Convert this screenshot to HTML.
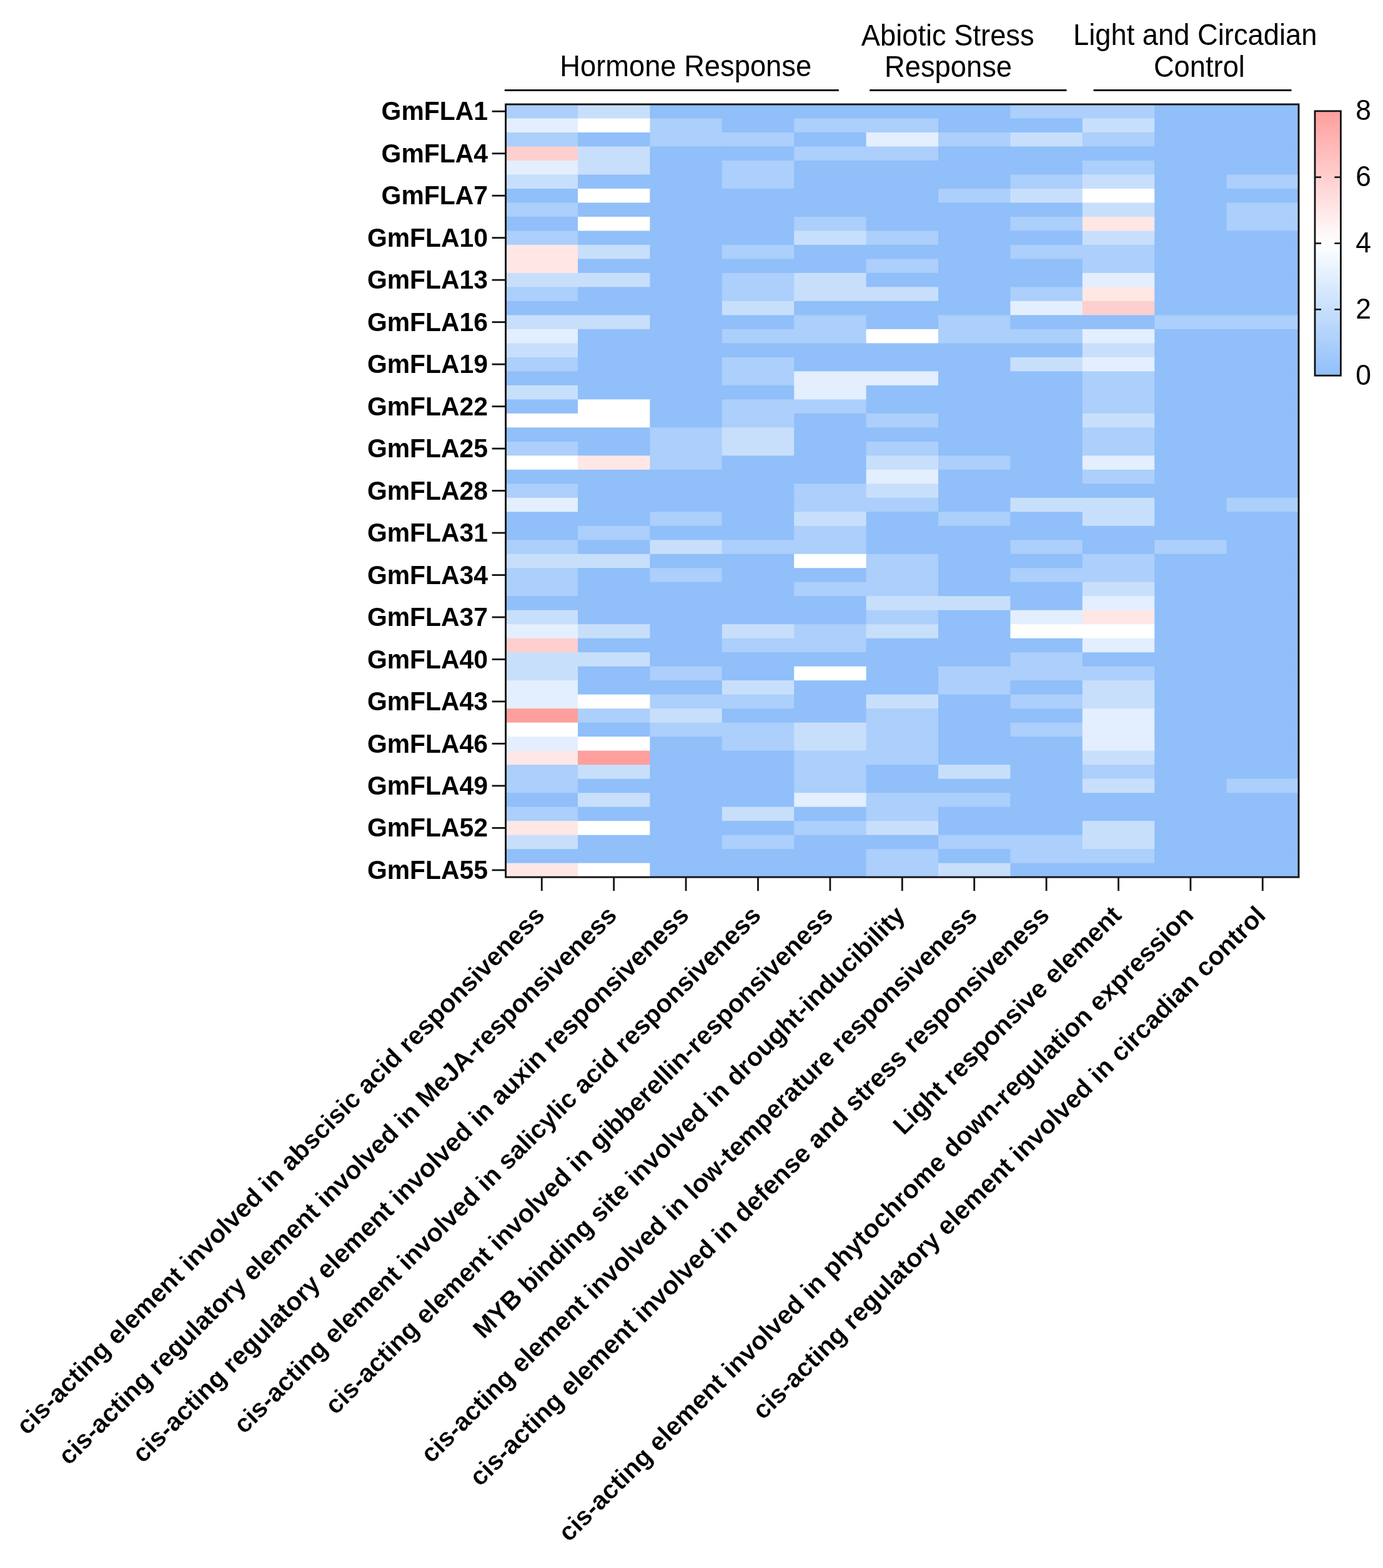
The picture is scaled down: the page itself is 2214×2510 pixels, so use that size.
<!DOCTYPE html>
<html lang="en"><head><meta charset="utf-8"><title>GmFLA cis-acting element heatmap</title>
<style>
html,body{margin:0;padding:0;background:#fff;}
body{width:2214px;height:2510px;overflow:hidden;}
svg{display:block;}
text{font-family:"Liberation Sans",Arial,Helvetica,sans-serif;fill:#000;}
.rl{font-weight:bold;font-size:40.9px;text-anchor:end;}
.cl{font-weight:bold;font-size:41.15px;text-anchor:end;stroke:#fff;stroke-width:0.2px;stroke-linejoin:round;paint-order:fill stroke;}
.gl{font-size:45.3px;text-anchor:middle;}
.bl{font-size:44.5px;text-anchor:start;}
.ln{stroke:#121212;fill:none;}
</style></head><body>
<svg width="2214" height="2510" viewBox="0 0 2214 2510">
<defs><linearGradient id="cb" x1="0" y1="0" x2="0" y2="1"><stop offset="0" stop-color="#fe9f9d"/><stop offset="0.5" stop-color="#ffffff"/><stop offset="1" stop-color="#90bffa"/></linearGradient></defs>
<rect x="0" y="0" width="2214" height="2510" fill="#fff"/>
<g shape-rendering="auto">
<rect x="809.60" y="167.00" width="1269.40" height="1237.10" fill="#90bffa"/>
<rect x="809.60" y="167.00" width="116.40" height="23.49" fill="#accffb"/>
<rect x="925.00" y="167.00" width="116.40" height="23.49" fill="#c8dffc"/>
<rect x="1040.40" y="167.00" width="116.40" height="23.49" fill="#90bffa"/>
<rect x="1155.80" y="167.00" width="116.40" height="23.49" fill="#90bffa"/>
<rect x="1271.20" y="167.00" width="116.40" height="23.49" fill="#90bffa"/>
<rect x="1386.60" y="167.00" width="116.40" height="23.49" fill="#90bffa"/>
<rect x="1502.00" y="167.00" width="116.40" height="23.49" fill="#90bffa"/>
<rect x="1617.40" y="167.00" width="116.40" height="23.49" fill="#accffb"/>
<rect x="1732.80" y="167.00" width="116.40" height="23.49" fill="#accffb"/>
<rect x="1848.20" y="167.00" width="116.40" height="23.49" fill="#90bffa"/>
<rect x="1963.60" y="167.00" width="115.40" height="23.49" fill="#90bffa"/>
<rect x="809.60" y="189.49" width="116.40" height="23.49" fill="#e3effe"/>
<rect x="925.00" y="189.49" width="116.40" height="23.49" fill="#ffffff"/>
<rect x="1040.40" y="189.49" width="116.40" height="23.49" fill="#accffb"/>
<rect x="1155.80" y="189.49" width="116.40" height="23.49" fill="#90bffa"/>
<rect x="1271.20" y="189.49" width="116.40" height="23.49" fill="#accffb"/>
<rect x="1386.60" y="189.49" width="116.40" height="23.49" fill="#accffb"/>
<rect x="1502.00" y="189.49" width="116.40" height="23.49" fill="#90bffa"/>
<rect x="1617.40" y="189.49" width="116.40" height="23.49" fill="#90bffa"/>
<rect x="1732.80" y="189.49" width="116.40" height="23.49" fill="#c8dffc"/>
<rect x="1848.20" y="189.49" width="116.40" height="23.49" fill="#90bffa"/>
<rect x="1963.60" y="189.49" width="115.40" height="23.49" fill="#90bffa"/>
<rect x="809.60" y="211.99" width="116.40" height="23.49" fill="#accffb"/>
<rect x="925.00" y="211.99" width="116.40" height="23.49" fill="#90bffa"/>
<rect x="1040.40" y="211.99" width="116.40" height="23.49" fill="#accffb"/>
<rect x="1155.80" y="211.99" width="116.40" height="23.49" fill="#accffb"/>
<rect x="1271.20" y="211.99" width="116.40" height="23.49" fill="#90bffa"/>
<rect x="1386.60" y="211.99" width="116.40" height="23.49" fill="#e3effe"/>
<rect x="1502.00" y="211.99" width="116.40" height="23.49" fill="#accffb"/>
<rect x="1617.40" y="211.99" width="116.40" height="23.49" fill="#c8dffc"/>
<rect x="1732.80" y="211.99" width="116.40" height="23.49" fill="#accffb"/>
<rect x="1848.20" y="211.99" width="116.40" height="23.49" fill="#90bffa"/>
<rect x="1963.60" y="211.99" width="115.40" height="23.49" fill="#90bffa"/>
<rect x="809.60" y="234.48" width="116.40" height="23.49" fill="#fecfce"/>
<rect x="925.00" y="234.48" width="116.40" height="23.49" fill="#c8dffc"/>
<rect x="1040.40" y="234.48" width="116.40" height="23.49" fill="#90bffa"/>
<rect x="1155.80" y="234.48" width="116.40" height="23.49" fill="#90bffa"/>
<rect x="1271.20" y="234.48" width="116.40" height="23.49" fill="#accffb"/>
<rect x="1386.60" y="234.48" width="116.40" height="23.49" fill="#accffb"/>
<rect x="1502.00" y="234.48" width="116.40" height="23.49" fill="#90bffa"/>
<rect x="1617.40" y="234.48" width="116.40" height="23.49" fill="#90bffa"/>
<rect x="1732.80" y="234.48" width="116.40" height="23.49" fill="#90bffa"/>
<rect x="1848.20" y="234.48" width="116.40" height="23.49" fill="#90bffa"/>
<rect x="1963.60" y="234.48" width="115.40" height="23.49" fill="#90bffa"/>
<rect x="809.60" y="256.97" width="116.40" height="23.49" fill="#e3effe"/>
<rect x="925.00" y="256.97" width="116.40" height="23.49" fill="#c8dffc"/>
<rect x="1040.40" y="256.97" width="116.40" height="23.49" fill="#90bffa"/>
<rect x="1155.80" y="256.97" width="116.40" height="23.49" fill="#accffb"/>
<rect x="1271.20" y="256.97" width="116.40" height="23.49" fill="#90bffa"/>
<rect x="1386.60" y="256.97" width="116.40" height="23.49" fill="#90bffa"/>
<rect x="1502.00" y="256.97" width="116.40" height="23.49" fill="#90bffa"/>
<rect x="1617.40" y="256.97" width="116.40" height="23.49" fill="#90bffa"/>
<rect x="1732.80" y="256.97" width="116.40" height="23.49" fill="#accffb"/>
<rect x="1848.20" y="256.97" width="116.40" height="23.49" fill="#90bffa"/>
<rect x="1963.60" y="256.97" width="115.40" height="23.49" fill="#90bffa"/>
<rect x="809.60" y="279.46" width="116.40" height="23.49" fill="#c8dffc"/>
<rect x="925.00" y="279.46" width="116.40" height="23.49" fill="#90bffa"/>
<rect x="1040.40" y="279.46" width="116.40" height="23.49" fill="#90bffa"/>
<rect x="1155.80" y="279.46" width="116.40" height="23.49" fill="#accffb"/>
<rect x="1271.20" y="279.46" width="116.40" height="23.49" fill="#90bffa"/>
<rect x="1386.60" y="279.46" width="116.40" height="23.49" fill="#90bffa"/>
<rect x="1502.00" y="279.46" width="116.40" height="23.49" fill="#90bffa"/>
<rect x="1617.40" y="279.46" width="116.40" height="23.49" fill="#accffb"/>
<rect x="1732.80" y="279.46" width="116.40" height="23.49" fill="#c8dffc"/>
<rect x="1848.20" y="279.46" width="116.40" height="23.49" fill="#90bffa"/>
<rect x="1963.60" y="279.46" width="115.40" height="23.49" fill="#accffb"/>
<rect x="809.60" y="301.96" width="116.40" height="23.49" fill="#90bffa"/>
<rect x="925.00" y="301.96" width="116.40" height="23.49" fill="#ffffff"/>
<rect x="1040.40" y="301.96" width="116.40" height="23.49" fill="#90bffa"/>
<rect x="1155.80" y="301.96" width="116.40" height="23.49" fill="#90bffa"/>
<rect x="1271.20" y="301.96" width="116.40" height="23.49" fill="#90bffa"/>
<rect x="1386.60" y="301.96" width="116.40" height="23.49" fill="#90bffa"/>
<rect x="1502.00" y="301.96" width="116.40" height="23.49" fill="#accffb"/>
<rect x="1617.40" y="301.96" width="116.40" height="23.49" fill="#c8dffc"/>
<rect x="1732.80" y="301.96" width="116.40" height="23.49" fill="#ffffff"/>
<rect x="1848.20" y="301.96" width="116.40" height="23.49" fill="#90bffa"/>
<rect x="1963.60" y="301.96" width="115.40" height="23.49" fill="#90bffa"/>
<rect x="809.60" y="324.45" width="116.40" height="23.49" fill="#accffb"/>
<rect x="925.00" y="324.45" width="116.40" height="23.49" fill="#90bffa"/>
<rect x="1040.40" y="324.45" width="116.40" height="23.49" fill="#90bffa"/>
<rect x="1155.80" y="324.45" width="116.40" height="23.49" fill="#90bffa"/>
<rect x="1271.20" y="324.45" width="116.40" height="23.49" fill="#90bffa"/>
<rect x="1386.60" y="324.45" width="116.40" height="23.49" fill="#90bffa"/>
<rect x="1502.00" y="324.45" width="116.40" height="23.49" fill="#90bffa"/>
<rect x="1617.40" y="324.45" width="116.40" height="23.49" fill="#90bffa"/>
<rect x="1732.80" y="324.45" width="116.40" height="23.49" fill="#c8dffc"/>
<rect x="1848.20" y="324.45" width="116.40" height="23.49" fill="#90bffa"/>
<rect x="1963.60" y="324.45" width="115.40" height="23.49" fill="#accffb"/>
<rect x="809.60" y="346.94" width="116.40" height="23.49" fill="#90bffa"/>
<rect x="925.00" y="346.94" width="116.40" height="23.49" fill="#ffffff"/>
<rect x="1040.40" y="346.94" width="116.40" height="23.49" fill="#90bffa"/>
<rect x="1155.80" y="346.94" width="116.40" height="23.49" fill="#90bffa"/>
<rect x="1271.20" y="346.94" width="116.40" height="23.49" fill="#accffb"/>
<rect x="1386.60" y="346.94" width="116.40" height="23.49" fill="#90bffa"/>
<rect x="1502.00" y="346.94" width="116.40" height="23.49" fill="#90bffa"/>
<rect x="1617.40" y="346.94" width="116.40" height="23.49" fill="#accffb"/>
<rect x="1732.80" y="346.94" width="116.40" height="23.49" fill="#ffe7e6"/>
<rect x="1848.20" y="346.94" width="116.40" height="23.49" fill="#90bffa"/>
<rect x="1963.60" y="346.94" width="115.40" height="23.49" fill="#accffb"/>
<rect x="809.60" y="369.43" width="116.40" height="23.49" fill="#accffb"/>
<rect x="925.00" y="369.43" width="116.40" height="23.49" fill="#90bffa"/>
<rect x="1040.40" y="369.43" width="116.40" height="23.49" fill="#90bffa"/>
<rect x="1155.80" y="369.43" width="116.40" height="23.49" fill="#90bffa"/>
<rect x="1271.20" y="369.43" width="116.40" height="23.49" fill="#c8dffc"/>
<rect x="1386.60" y="369.43" width="116.40" height="23.49" fill="#accffb"/>
<rect x="1502.00" y="369.43" width="116.40" height="23.49" fill="#90bffa"/>
<rect x="1617.40" y="369.43" width="116.40" height="23.49" fill="#90bffa"/>
<rect x="1732.80" y="369.43" width="116.40" height="23.49" fill="#c8dffc"/>
<rect x="1848.20" y="369.43" width="116.40" height="23.49" fill="#90bffa"/>
<rect x="1963.60" y="369.43" width="115.40" height="23.49" fill="#90bffa"/>
<rect x="809.60" y="391.93" width="116.40" height="23.49" fill="#ffe7e6"/>
<rect x="925.00" y="391.93" width="116.40" height="23.49" fill="#c8dffc"/>
<rect x="1040.40" y="391.93" width="116.40" height="23.49" fill="#90bffa"/>
<rect x="1155.80" y="391.93" width="116.40" height="23.49" fill="#accffb"/>
<rect x="1271.20" y="391.93" width="116.40" height="23.49" fill="#90bffa"/>
<rect x="1386.60" y="391.93" width="116.40" height="23.49" fill="#90bffa"/>
<rect x="1502.00" y="391.93" width="116.40" height="23.49" fill="#90bffa"/>
<rect x="1617.40" y="391.93" width="116.40" height="23.49" fill="#accffb"/>
<rect x="1732.80" y="391.93" width="116.40" height="23.49" fill="#accffb"/>
<rect x="1848.20" y="391.93" width="116.40" height="23.49" fill="#90bffa"/>
<rect x="1963.60" y="391.93" width="115.40" height="23.49" fill="#90bffa"/>
<rect x="809.60" y="414.42" width="116.40" height="23.49" fill="#ffe7e6"/>
<rect x="925.00" y="414.42" width="116.40" height="23.49" fill="#90bffa"/>
<rect x="1040.40" y="414.42" width="116.40" height="23.49" fill="#90bffa"/>
<rect x="1155.80" y="414.42" width="116.40" height="23.49" fill="#90bffa"/>
<rect x="1271.20" y="414.42" width="116.40" height="23.49" fill="#90bffa"/>
<rect x="1386.60" y="414.42" width="116.40" height="23.49" fill="#accffb"/>
<rect x="1502.00" y="414.42" width="116.40" height="23.49" fill="#90bffa"/>
<rect x="1617.40" y="414.42" width="116.40" height="23.49" fill="#90bffa"/>
<rect x="1732.80" y="414.42" width="116.40" height="23.49" fill="#accffb"/>
<rect x="1848.20" y="414.42" width="116.40" height="23.49" fill="#90bffa"/>
<rect x="1963.60" y="414.42" width="115.40" height="23.49" fill="#90bffa"/>
<rect x="809.60" y="436.91" width="116.40" height="23.49" fill="#c8dffc"/>
<rect x="925.00" y="436.91" width="116.40" height="23.49" fill="#c8dffc"/>
<rect x="1040.40" y="436.91" width="116.40" height="23.49" fill="#90bffa"/>
<rect x="1155.80" y="436.91" width="116.40" height="23.49" fill="#accffb"/>
<rect x="1271.20" y="436.91" width="116.40" height="23.49" fill="#c8dffc"/>
<rect x="1386.60" y="436.91" width="116.40" height="23.49" fill="#90bffa"/>
<rect x="1502.00" y="436.91" width="116.40" height="23.49" fill="#90bffa"/>
<rect x="1617.40" y="436.91" width="116.40" height="23.49" fill="#90bffa"/>
<rect x="1732.80" y="436.91" width="116.40" height="23.49" fill="#e3effe"/>
<rect x="1848.20" y="436.91" width="116.40" height="23.49" fill="#90bffa"/>
<rect x="1963.60" y="436.91" width="115.40" height="23.49" fill="#90bffa"/>
<rect x="809.60" y="459.41" width="116.40" height="23.49" fill="#accffb"/>
<rect x="925.00" y="459.41" width="116.40" height="23.49" fill="#90bffa"/>
<rect x="1040.40" y="459.41" width="116.40" height="23.49" fill="#90bffa"/>
<rect x="1155.80" y="459.41" width="116.40" height="23.49" fill="#accffb"/>
<rect x="1271.20" y="459.41" width="116.40" height="23.49" fill="#c8dffc"/>
<rect x="1386.60" y="459.41" width="116.40" height="23.49" fill="#c8dffc"/>
<rect x="1502.00" y="459.41" width="116.40" height="23.49" fill="#90bffa"/>
<rect x="1617.40" y="459.41" width="116.40" height="23.49" fill="#accffb"/>
<rect x="1732.80" y="459.41" width="116.40" height="23.49" fill="#ffe7e6"/>
<rect x="1848.20" y="459.41" width="116.40" height="23.49" fill="#90bffa"/>
<rect x="1963.60" y="459.41" width="115.40" height="23.49" fill="#90bffa"/>
<rect x="809.60" y="481.90" width="116.40" height="23.49" fill="#90bffa"/>
<rect x="925.00" y="481.90" width="116.40" height="23.49" fill="#90bffa"/>
<rect x="1040.40" y="481.90" width="116.40" height="23.49" fill="#90bffa"/>
<rect x="1155.80" y="481.90" width="116.40" height="23.49" fill="#c8dffc"/>
<rect x="1271.20" y="481.90" width="116.40" height="23.49" fill="#90bffa"/>
<rect x="1386.60" y="481.90" width="116.40" height="23.49" fill="#90bffa"/>
<rect x="1502.00" y="481.90" width="116.40" height="23.49" fill="#90bffa"/>
<rect x="1617.40" y="481.90" width="116.40" height="23.49" fill="#e3effe"/>
<rect x="1732.80" y="481.90" width="116.40" height="23.49" fill="#fecfce"/>
<rect x="1848.20" y="481.90" width="116.40" height="23.49" fill="#90bffa"/>
<rect x="1963.60" y="481.90" width="115.40" height="23.49" fill="#90bffa"/>
<rect x="809.60" y="504.39" width="116.40" height="23.49" fill="#c8dffc"/>
<rect x="925.00" y="504.39" width="116.40" height="23.49" fill="#c8dffc"/>
<rect x="1040.40" y="504.39" width="116.40" height="23.49" fill="#90bffa"/>
<rect x="1155.80" y="504.39" width="116.40" height="23.49" fill="#90bffa"/>
<rect x="1271.20" y="504.39" width="116.40" height="23.49" fill="#accffb"/>
<rect x="1386.60" y="504.39" width="116.40" height="23.49" fill="#90bffa"/>
<rect x="1502.00" y="504.39" width="116.40" height="23.49" fill="#accffb"/>
<rect x="1617.40" y="504.39" width="116.40" height="23.49" fill="#90bffa"/>
<rect x="1732.80" y="504.39" width="116.40" height="23.49" fill="#90bffa"/>
<rect x="1848.20" y="504.39" width="116.40" height="23.49" fill="#accffb"/>
<rect x="1963.60" y="504.39" width="115.40" height="23.49" fill="#accffb"/>
<rect x="809.60" y="526.88" width="116.40" height="23.49" fill="#e3effe"/>
<rect x="925.00" y="526.88" width="116.40" height="23.49" fill="#90bffa"/>
<rect x="1040.40" y="526.88" width="116.40" height="23.49" fill="#90bffa"/>
<rect x="1155.80" y="526.88" width="116.40" height="23.49" fill="#accffb"/>
<rect x="1271.20" y="526.88" width="116.40" height="23.49" fill="#accffb"/>
<rect x="1386.60" y="526.88" width="116.40" height="23.49" fill="#ffffff"/>
<rect x="1502.00" y="526.88" width="116.40" height="23.49" fill="#accffb"/>
<rect x="1617.40" y="526.88" width="116.40" height="23.49" fill="#accffb"/>
<rect x="1732.80" y="526.88" width="116.40" height="23.49" fill="#e3effe"/>
<rect x="1848.20" y="526.88" width="116.40" height="23.49" fill="#90bffa"/>
<rect x="1963.60" y="526.88" width="115.40" height="23.49" fill="#90bffa"/>
<rect x="809.60" y="549.38" width="116.40" height="23.49" fill="#c8dffc"/>
<rect x="925.00" y="549.38" width="116.40" height="23.49" fill="#90bffa"/>
<rect x="1040.40" y="549.38" width="116.40" height="23.49" fill="#90bffa"/>
<rect x="1155.80" y="549.38" width="116.40" height="23.49" fill="#90bffa"/>
<rect x="1271.20" y="549.38" width="116.40" height="23.49" fill="#90bffa"/>
<rect x="1386.60" y="549.38" width="116.40" height="23.49" fill="#90bffa"/>
<rect x="1502.00" y="549.38" width="116.40" height="23.49" fill="#90bffa"/>
<rect x="1617.40" y="549.38" width="116.40" height="23.49" fill="#90bffa"/>
<rect x="1732.80" y="549.38" width="116.40" height="23.49" fill="#c8dffc"/>
<rect x="1848.20" y="549.38" width="116.40" height="23.49" fill="#90bffa"/>
<rect x="1963.60" y="549.38" width="115.40" height="23.49" fill="#90bffa"/>
<rect x="809.60" y="571.87" width="116.40" height="23.49" fill="#accffb"/>
<rect x="925.00" y="571.87" width="116.40" height="23.49" fill="#90bffa"/>
<rect x="1040.40" y="571.87" width="116.40" height="23.49" fill="#90bffa"/>
<rect x="1155.80" y="571.87" width="116.40" height="23.49" fill="#accffb"/>
<rect x="1271.20" y="571.87" width="116.40" height="23.49" fill="#90bffa"/>
<rect x="1386.60" y="571.87" width="116.40" height="23.49" fill="#90bffa"/>
<rect x="1502.00" y="571.87" width="116.40" height="23.49" fill="#90bffa"/>
<rect x="1617.40" y="571.87" width="116.40" height="23.49" fill="#c8dffc"/>
<rect x="1732.80" y="571.87" width="116.40" height="23.49" fill="#e3effe"/>
<rect x="1848.20" y="571.87" width="116.40" height="23.49" fill="#90bffa"/>
<rect x="1963.60" y="571.87" width="115.40" height="23.49" fill="#90bffa"/>
<rect x="809.60" y="594.36" width="116.40" height="23.49" fill="#90bffa"/>
<rect x="925.00" y="594.36" width="116.40" height="23.49" fill="#90bffa"/>
<rect x="1040.40" y="594.36" width="116.40" height="23.49" fill="#90bffa"/>
<rect x="1155.80" y="594.36" width="116.40" height="23.49" fill="#accffb"/>
<rect x="1271.20" y="594.36" width="116.40" height="23.49" fill="#e3effe"/>
<rect x="1386.60" y="594.36" width="116.40" height="23.49" fill="#e3effe"/>
<rect x="1502.00" y="594.36" width="116.40" height="23.49" fill="#90bffa"/>
<rect x="1617.40" y="594.36" width="116.40" height="23.49" fill="#90bffa"/>
<rect x="1732.80" y="594.36" width="116.40" height="23.49" fill="#accffb"/>
<rect x="1848.20" y="594.36" width="116.40" height="23.49" fill="#90bffa"/>
<rect x="1963.60" y="594.36" width="115.40" height="23.49" fill="#90bffa"/>
<rect x="809.60" y="616.85" width="116.40" height="23.49" fill="#c8dffc"/>
<rect x="925.00" y="616.85" width="116.40" height="23.49" fill="#90bffa"/>
<rect x="1040.40" y="616.85" width="116.40" height="23.49" fill="#90bffa"/>
<rect x="1155.80" y="616.85" width="116.40" height="23.49" fill="#90bffa"/>
<rect x="1271.20" y="616.85" width="116.40" height="23.49" fill="#e3effe"/>
<rect x="1386.60" y="616.85" width="116.40" height="23.49" fill="#90bffa"/>
<rect x="1502.00" y="616.85" width="116.40" height="23.49" fill="#90bffa"/>
<rect x="1617.40" y="616.85" width="116.40" height="23.49" fill="#90bffa"/>
<rect x="1732.80" y="616.85" width="116.40" height="23.49" fill="#accffb"/>
<rect x="1848.20" y="616.85" width="116.40" height="23.49" fill="#90bffa"/>
<rect x="1963.60" y="616.85" width="115.40" height="23.49" fill="#90bffa"/>
<rect x="809.60" y="639.35" width="116.40" height="23.49" fill="#90bffa"/>
<rect x="925.00" y="639.35" width="116.40" height="23.49" fill="#ffffff"/>
<rect x="1040.40" y="639.35" width="116.40" height="23.49" fill="#90bffa"/>
<rect x="1155.80" y="639.35" width="116.40" height="23.49" fill="#accffb"/>
<rect x="1271.20" y="639.35" width="116.40" height="23.49" fill="#accffb"/>
<rect x="1386.60" y="639.35" width="116.40" height="23.49" fill="#90bffa"/>
<rect x="1502.00" y="639.35" width="116.40" height="23.49" fill="#90bffa"/>
<rect x="1617.40" y="639.35" width="116.40" height="23.49" fill="#90bffa"/>
<rect x="1732.80" y="639.35" width="116.40" height="23.49" fill="#accffb"/>
<rect x="1848.20" y="639.35" width="116.40" height="23.49" fill="#90bffa"/>
<rect x="1963.60" y="639.35" width="115.40" height="23.49" fill="#90bffa"/>
<rect x="809.60" y="661.84" width="116.40" height="23.49" fill="#ffffff"/>
<rect x="925.00" y="661.84" width="116.40" height="23.49" fill="#ffffff"/>
<rect x="1040.40" y="661.84" width="116.40" height="23.49" fill="#90bffa"/>
<rect x="1155.80" y="661.84" width="116.40" height="23.49" fill="#accffb"/>
<rect x="1271.20" y="661.84" width="116.40" height="23.49" fill="#90bffa"/>
<rect x="1386.60" y="661.84" width="116.40" height="23.49" fill="#accffb"/>
<rect x="1502.00" y="661.84" width="116.40" height="23.49" fill="#90bffa"/>
<rect x="1617.40" y="661.84" width="116.40" height="23.49" fill="#90bffa"/>
<rect x="1732.80" y="661.84" width="116.40" height="23.49" fill="#c8dffc"/>
<rect x="1848.20" y="661.84" width="116.40" height="23.49" fill="#90bffa"/>
<rect x="1963.60" y="661.84" width="115.40" height="23.49" fill="#90bffa"/>
<rect x="809.60" y="684.33" width="116.40" height="23.49" fill="#90bffa"/>
<rect x="925.00" y="684.33" width="116.40" height="23.49" fill="#90bffa"/>
<rect x="1040.40" y="684.33" width="116.40" height="23.49" fill="#accffb"/>
<rect x="1155.80" y="684.33" width="116.40" height="23.49" fill="#c8dffc"/>
<rect x="1271.20" y="684.33" width="116.40" height="23.49" fill="#90bffa"/>
<rect x="1386.60" y="684.33" width="116.40" height="23.49" fill="#90bffa"/>
<rect x="1502.00" y="684.33" width="116.40" height="23.49" fill="#90bffa"/>
<rect x="1617.40" y="684.33" width="116.40" height="23.49" fill="#90bffa"/>
<rect x="1732.80" y="684.33" width="116.40" height="23.49" fill="#accffb"/>
<rect x="1848.20" y="684.33" width="116.40" height="23.49" fill="#90bffa"/>
<rect x="1963.60" y="684.33" width="115.40" height="23.49" fill="#90bffa"/>
<rect x="809.60" y="706.83" width="116.40" height="23.49" fill="#accffb"/>
<rect x="925.00" y="706.83" width="116.40" height="23.49" fill="#90bffa"/>
<rect x="1040.40" y="706.83" width="116.40" height="23.49" fill="#accffb"/>
<rect x="1155.80" y="706.83" width="116.40" height="23.49" fill="#c8dffc"/>
<rect x="1271.20" y="706.83" width="116.40" height="23.49" fill="#90bffa"/>
<rect x="1386.60" y="706.83" width="116.40" height="23.49" fill="#accffb"/>
<rect x="1502.00" y="706.83" width="116.40" height="23.49" fill="#90bffa"/>
<rect x="1617.40" y="706.83" width="116.40" height="23.49" fill="#90bffa"/>
<rect x="1732.80" y="706.83" width="116.40" height="23.49" fill="#accffb"/>
<rect x="1848.20" y="706.83" width="116.40" height="23.49" fill="#90bffa"/>
<rect x="1963.60" y="706.83" width="115.40" height="23.49" fill="#90bffa"/>
<rect x="809.60" y="729.32" width="116.40" height="23.49" fill="#ffffff"/>
<rect x="925.00" y="729.32" width="116.40" height="23.49" fill="#ffe7e6"/>
<rect x="1040.40" y="729.32" width="116.40" height="23.49" fill="#accffb"/>
<rect x="1155.80" y="729.32" width="116.40" height="23.49" fill="#90bffa"/>
<rect x="1271.20" y="729.32" width="116.40" height="23.49" fill="#90bffa"/>
<rect x="1386.60" y="729.32" width="116.40" height="23.49" fill="#c8dffc"/>
<rect x="1502.00" y="729.32" width="116.40" height="23.49" fill="#accffb"/>
<rect x="1617.40" y="729.32" width="116.40" height="23.49" fill="#90bffa"/>
<rect x="1732.80" y="729.32" width="116.40" height="23.49" fill="#e3effe"/>
<rect x="1848.20" y="729.32" width="116.40" height="23.49" fill="#90bffa"/>
<rect x="1963.60" y="729.32" width="115.40" height="23.49" fill="#90bffa"/>
<rect x="809.60" y="751.81" width="116.40" height="23.49" fill="#90bffa"/>
<rect x="925.00" y="751.81" width="116.40" height="23.49" fill="#90bffa"/>
<rect x="1040.40" y="751.81" width="116.40" height="23.49" fill="#90bffa"/>
<rect x="1155.80" y="751.81" width="116.40" height="23.49" fill="#90bffa"/>
<rect x="1271.20" y="751.81" width="116.40" height="23.49" fill="#90bffa"/>
<rect x="1386.60" y="751.81" width="116.40" height="23.49" fill="#e3effe"/>
<rect x="1502.00" y="751.81" width="116.40" height="23.49" fill="#90bffa"/>
<rect x="1617.40" y="751.81" width="116.40" height="23.49" fill="#90bffa"/>
<rect x="1732.80" y="751.81" width="116.40" height="23.49" fill="#accffb"/>
<rect x="1848.20" y="751.81" width="116.40" height="23.49" fill="#90bffa"/>
<rect x="1963.60" y="751.81" width="115.40" height="23.49" fill="#90bffa"/>
<rect x="809.60" y="774.30" width="116.40" height="23.49" fill="#accffb"/>
<rect x="925.00" y="774.30" width="116.40" height="23.49" fill="#90bffa"/>
<rect x="1040.40" y="774.30" width="116.40" height="23.49" fill="#90bffa"/>
<rect x="1155.80" y="774.30" width="116.40" height="23.49" fill="#90bffa"/>
<rect x="1271.20" y="774.30" width="116.40" height="23.49" fill="#accffb"/>
<rect x="1386.60" y="774.30" width="116.40" height="23.49" fill="#c8dffc"/>
<rect x="1502.00" y="774.30" width="116.40" height="23.49" fill="#90bffa"/>
<rect x="1617.40" y="774.30" width="116.40" height="23.49" fill="#90bffa"/>
<rect x="1732.80" y="774.30" width="116.40" height="23.49" fill="#90bffa"/>
<rect x="1848.20" y="774.30" width="116.40" height="23.49" fill="#90bffa"/>
<rect x="1963.60" y="774.30" width="115.40" height="23.49" fill="#90bffa"/>
<rect x="809.60" y="796.80" width="116.40" height="23.49" fill="#e3effe"/>
<rect x="925.00" y="796.80" width="116.40" height="23.49" fill="#90bffa"/>
<rect x="1040.40" y="796.80" width="116.40" height="23.49" fill="#90bffa"/>
<rect x="1155.80" y="796.80" width="116.40" height="23.49" fill="#90bffa"/>
<rect x="1271.20" y="796.80" width="116.40" height="23.49" fill="#accffb"/>
<rect x="1386.60" y="796.80" width="116.40" height="23.49" fill="#accffb"/>
<rect x="1502.00" y="796.80" width="116.40" height="23.49" fill="#90bffa"/>
<rect x="1617.40" y="796.80" width="116.40" height="23.49" fill="#c8dffc"/>
<rect x="1732.80" y="796.80" width="116.40" height="23.49" fill="#c8dffc"/>
<rect x="1848.20" y="796.80" width="116.40" height="23.49" fill="#90bffa"/>
<rect x="1963.60" y="796.80" width="115.40" height="23.49" fill="#accffb"/>
<rect x="809.60" y="819.29" width="116.40" height="23.49" fill="#90bffa"/>
<rect x="925.00" y="819.29" width="116.40" height="23.49" fill="#90bffa"/>
<rect x="1040.40" y="819.29" width="116.40" height="23.49" fill="#accffb"/>
<rect x="1155.80" y="819.29" width="116.40" height="23.49" fill="#90bffa"/>
<rect x="1271.20" y="819.29" width="116.40" height="23.49" fill="#c8dffc"/>
<rect x="1386.60" y="819.29" width="116.40" height="23.49" fill="#90bffa"/>
<rect x="1502.00" y="819.29" width="116.40" height="23.49" fill="#accffb"/>
<rect x="1617.40" y="819.29" width="116.40" height="23.49" fill="#90bffa"/>
<rect x="1732.80" y="819.29" width="116.40" height="23.49" fill="#c8dffc"/>
<rect x="1848.20" y="819.29" width="116.40" height="23.49" fill="#90bffa"/>
<rect x="1963.60" y="819.29" width="115.40" height="23.49" fill="#90bffa"/>
<rect x="809.60" y="841.78" width="116.40" height="23.49" fill="#90bffa"/>
<rect x="925.00" y="841.78" width="116.40" height="23.49" fill="#accffb"/>
<rect x="1040.40" y="841.78" width="116.40" height="23.49" fill="#90bffa"/>
<rect x="1155.80" y="841.78" width="116.40" height="23.49" fill="#90bffa"/>
<rect x="1271.20" y="841.78" width="116.40" height="23.49" fill="#accffb"/>
<rect x="1386.60" y="841.78" width="116.40" height="23.49" fill="#90bffa"/>
<rect x="1502.00" y="841.78" width="116.40" height="23.49" fill="#90bffa"/>
<rect x="1617.40" y="841.78" width="116.40" height="23.49" fill="#90bffa"/>
<rect x="1732.80" y="841.78" width="116.40" height="23.49" fill="#90bffa"/>
<rect x="1848.20" y="841.78" width="116.40" height="23.49" fill="#90bffa"/>
<rect x="1963.60" y="841.78" width="115.40" height="23.49" fill="#90bffa"/>
<rect x="809.60" y="864.27" width="116.40" height="23.49" fill="#accffb"/>
<rect x="925.00" y="864.27" width="116.40" height="23.49" fill="#90bffa"/>
<rect x="1040.40" y="864.27" width="116.40" height="23.49" fill="#c8dffc"/>
<rect x="1155.80" y="864.27" width="116.40" height="23.49" fill="#accffb"/>
<rect x="1271.20" y="864.27" width="116.40" height="23.49" fill="#accffb"/>
<rect x="1386.60" y="864.27" width="116.40" height="23.49" fill="#90bffa"/>
<rect x="1502.00" y="864.27" width="116.40" height="23.49" fill="#90bffa"/>
<rect x="1617.40" y="864.27" width="116.40" height="23.49" fill="#accffb"/>
<rect x="1732.80" y="864.27" width="116.40" height="23.49" fill="#90bffa"/>
<rect x="1848.20" y="864.27" width="116.40" height="23.49" fill="#accffb"/>
<rect x="1963.60" y="864.27" width="115.40" height="23.49" fill="#90bffa"/>
<rect x="809.60" y="886.77" width="116.40" height="23.49" fill="#c8dffc"/>
<rect x="925.00" y="886.77" width="116.40" height="23.49" fill="#c8dffc"/>
<rect x="1040.40" y="886.77" width="116.40" height="23.49" fill="#90bffa"/>
<rect x="1155.80" y="886.77" width="116.40" height="23.49" fill="#90bffa"/>
<rect x="1271.20" y="886.77" width="116.40" height="23.49" fill="#ffffff"/>
<rect x="1386.60" y="886.77" width="116.40" height="23.49" fill="#accffb"/>
<rect x="1502.00" y="886.77" width="116.40" height="23.49" fill="#90bffa"/>
<rect x="1617.40" y="886.77" width="116.40" height="23.49" fill="#90bffa"/>
<rect x="1732.80" y="886.77" width="116.40" height="23.49" fill="#accffb"/>
<rect x="1848.20" y="886.77" width="116.40" height="23.49" fill="#90bffa"/>
<rect x="1963.60" y="886.77" width="115.40" height="23.49" fill="#90bffa"/>
<rect x="809.60" y="909.26" width="116.40" height="23.49" fill="#accffb"/>
<rect x="925.00" y="909.26" width="116.40" height="23.49" fill="#90bffa"/>
<rect x="1040.40" y="909.26" width="116.40" height="23.49" fill="#accffb"/>
<rect x="1155.80" y="909.26" width="116.40" height="23.49" fill="#90bffa"/>
<rect x="1271.20" y="909.26" width="116.40" height="23.49" fill="#90bffa"/>
<rect x="1386.60" y="909.26" width="116.40" height="23.49" fill="#accffb"/>
<rect x="1502.00" y="909.26" width="116.40" height="23.49" fill="#90bffa"/>
<rect x="1617.40" y="909.26" width="116.40" height="23.49" fill="#accffb"/>
<rect x="1732.80" y="909.26" width="116.40" height="23.49" fill="#accffb"/>
<rect x="1848.20" y="909.26" width="116.40" height="23.49" fill="#90bffa"/>
<rect x="1963.60" y="909.26" width="115.40" height="23.49" fill="#90bffa"/>
<rect x="809.60" y="931.75" width="116.40" height="23.49" fill="#accffb"/>
<rect x="925.00" y="931.75" width="116.40" height="23.49" fill="#90bffa"/>
<rect x="1040.40" y="931.75" width="116.40" height="23.49" fill="#90bffa"/>
<rect x="1155.80" y="931.75" width="116.40" height="23.49" fill="#90bffa"/>
<rect x="1271.20" y="931.75" width="116.40" height="23.49" fill="#accffb"/>
<rect x="1386.60" y="931.75" width="116.40" height="23.49" fill="#accffb"/>
<rect x="1502.00" y="931.75" width="116.40" height="23.49" fill="#90bffa"/>
<rect x="1617.40" y="931.75" width="116.40" height="23.49" fill="#90bffa"/>
<rect x="1732.80" y="931.75" width="116.40" height="23.49" fill="#c8dffc"/>
<rect x="1848.20" y="931.75" width="116.40" height="23.49" fill="#90bffa"/>
<rect x="1963.60" y="931.75" width="115.40" height="23.49" fill="#90bffa"/>
<rect x="809.60" y="954.25" width="116.40" height="23.49" fill="#90bffa"/>
<rect x="925.00" y="954.25" width="116.40" height="23.49" fill="#90bffa"/>
<rect x="1040.40" y="954.25" width="116.40" height="23.49" fill="#90bffa"/>
<rect x="1155.80" y="954.25" width="116.40" height="23.49" fill="#90bffa"/>
<rect x="1271.20" y="954.25" width="116.40" height="23.49" fill="#90bffa"/>
<rect x="1386.60" y="954.25" width="116.40" height="23.49" fill="#c8dffc"/>
<rect x="1502.00" y="954.25" width="116.40" height="23.49" fill="#c8dffc"/>
<rect x="1617.40" y="954.25" width="116.40" height="23.49" fill="#90bffa"/>
<rect x="1732.80" y="954.25" width="116.40" height="23.49" fill="#e3effe"/>
<rect x="1848.20" y="954.25" width="116.40" height="23.49" fill="#90bffa"/>
<rect x="1963.60" y="954.25" width="115.40" height="23.49" fill="#90bffa"/>
<rect x="809.60" y="976.74" width="116.40" height="23.49" fill="#c8dffc"/>
<rect x="925.00" y="976.74" width="116.40" height="23.49" fill="#90bffa"/>
<rect x="1040.40" y="976.74" width="116.40" height="23.49" fill="#90bffa"/>
<rect x="1155.80" y="976.74" width="116.40" height="23.49" fill="#90bffa"/>
<rect x="1271.20" y="976.74" width="116.40" height="23.49" fill="#90bffa"/>
<rect x="1386.60" y="976.74" width="116.40" height="23.49" fill="#accffb"/>
<rect x="1502.00" y="976.74" width="116.40" height="23.49" fill="#90bffa"/>
<rect x="1617.40" y="976.74" width="116.40" height="23.49" fill="#e3effe"/>
<rect x="1732.80" y="976.74" width="116.40" height="23.49" fill="#ffe7e6"/>
<rect x="1848.20" y="976.74" width="116.40" height="23.49" fill="#90bffa"/>
<rect x="1963.60" y="976.74" width="115.40" height="23.49" fill="#90bffa"/>
<rect x="809.60" y="999.23" width="116.40" height="23.49" fill="#e3effe"/>
<rect x="925.00" y="999.23" width="116.40" height="23.49" fill="#c8dffc"/>
<rect x="1040.40" y="999.23" width="116.40" height="23.49" fill="#90bffa"/>
<rect x="1155.80" y="999.23" width="116.40" height="23.49" fill="#c8dffc"/>
<rect x="1271.20" y="999.23" width="116.40" height="23.49" fill="#accffb"/>
<rect x="1386.60" y="999.23" width="116.40" height="23.49" fill="#c8dffc"/>
<rect x="1502.00" y="999.23" width="116.40" height="23.49" fill="#90bffa"/>
<rect x="1617.40" y="999.23" width="116.40" height="23.49" fill="#ffffff"/>
<rect x="1732.80" y="999.23" width="116.40" height="23.49" fill="#ffffff"/>
<rect x="1848.20" y="999.23" width="116.40" height="23.49" fill="#90bffa"/>
<rect x="1963.60" y="999.23" width="115.40" height="23.49" fill="#90bffa"/>
<rect x="809.60" y="1021.72" width="116.40" height="23.49" fill="#fecfce"/>
<rect x="925.00" y="1021.72" width="116.40" height="23.49" fill="#90bffa"/>
<rect x="1040.40" y="1021.72" width="116.40" height="23.49" fill="#90bffa"/>
<rect x="1155.80" y="1021.72" width="116.40" height="23.49" fill="#accffb"/>
<rect x="1271.20" y="1021.72" width="116.40" height="23.49" fill="#accffb"/>
<rect x="1386.60" y="1021.72" width="116.40" height="23.49" fill="#90bffa"/>
<rect x="1502.00" y="1021.72" width="116.40" height="23.49" fill="#90bffa"/>
<rect x="1617.40" y="1021.72" width="116.40" height="23.49" fill="#90bffa"/>
<rect x="1732.80" y="1021.72" width="116.40" height="23.49" fill="#e3effe"/>
<rect x="1848.20" y="1021.72" width="116.40" height="23.49" fill="#90bffa"/>
<rect x="1963.60" y="1021.72" width="115.40" height="23.49" fill="#90bffa"/>
<rect x="809.60" y="1044.22" width="116.40" height="23.49" fill="#c8dffc"/>
<rect x="925.00" y="1044.22" width="116.40" height="23.49" fill="#c8dffc"/>
<rect x="1040.40" y="1044.22" width="116.40" height="23.49" fill="#90bffa"/>
<rect x="1155.80" y="1044.22" width="116.40" height="23.49" fill="#90bffa"/>
<rect x="1271.20" y="1044.22" width="116.40" height="23.49" fill="#90bffa"/>
<rect x="1386.60" y="1044.22" width="116.40" height="23.49" fill="#90bffa"/>
<rect x="1502.00" y="1044.22" width="116.40" height="23.49" fill="#90bffa"/>
<rect x="1617.40" y="1044.22" width="116.40" height="23.49" fill="#accffb"/>
<rect x="1732.80" y="1044.22" width="116.40" height="23.49" fill="#90bffa"/>
<rect x="1848.20" y="1044.22" width="116.40" height="23.49" fill="#90bffa"/>
<rect x="1963.60" y="1044.22" width="115.40" height="23.49" fill="#90bffa"/>
<rect x="809.60" y="1066.71" width="116.40" height="23.49" fill="#c8dffc"/>
<rect x="925.00" y="1066.71" width="116.40" height="23.49" fill="#90bffa"/>
<rect x="1040.40" y="1066.71" width="116.40" height="23.49" fill="#accffb"/>
<rect x="1155.80" y="1066.71" width="116.40" height="23.49" fill="#90bffa"/>
<rect x="1271.20" y="1066.71" width="116.40" height="23.49" fill="#ffffff"/>
<rect x="1386.60" y="1066.71" width="116.40" height="23.49" fill="#90bffa"/>
<rect x="1502.00" y="1066.71" width="116.40" height="23.49" fill="#accffb"/>
<rect x="1617.40" y="1066.71" width="116.40" height="23.49" fill="#accffb"/>
<rect x="1732.80" y="1066.71" width="116.40" height="23.49" fill="#accffb"/>
<rect x="1848.20" y="1066.71" width="116.40" height="23.49" fill="#90bffa"/>
<rect x="1963.60" y="1066.71" width="115.40" height="23.49" fill="#90bffa"/>
<rect x="809.60" y="1089.20" width="116.40" height="23.49" fill="#e3effe"/>
<rect x="925.00" y="1089.20" width="116.40" height="23.49" fill="#90bffa"/>
<rect x="1040.40" y="1089.20" width="116.40" height="23.49" fill="#90bffa"/>
<rect x="1155.80" y="1089.20" width="116.40" height="23.49" fill="#c8dffc"/>
<rect x="1271.20" y="1089.20" width="116.40" height="23.49" fill="#90bffa"/>
<rect x="1386.60" y="1089.20" width="116.40" height="23.49" fill="#90bffa"/>
<rect x="1502.00" y="1089.20" width="116.40" height="23.49" fill="#accffb"/>
<rect x="1617.40" y="1089.20" width="116.40" height="23.49" fill="#90bffa"/>
<rect x="1732.80" y="1089.20" width="116.40" height="23.49" fill="#c8dffc"/>
<rect x="1848.20" y="1089.20" width="116.40" height="23.49" fill="#90bffa"/>
<rect x="1963.60" y="1089.20" width="115.40" height="23.49" fill="#90bffa"/>
<rect x="809.60" y="1111.69" width="116.40" height="23.49" fill="#e3effe"/>
<rect x="925.00" y="1111.69" width="116.40" height="23.49" fill="#ffffff"/>
<rect x="1040.40" y="1111.69" width="116.40" height="23.49" fill="#accffb"/>
<rect x="1155.80" y="1111.69" width="116.40" height="23.49" fill="#accffb"/>
<rect x="1271.20" y="1111.69" width="116.40" height="23.49" fill="#90bffa"/>
<rect x="1386.60" y="1111.69" width="116.40" height="23.49" fill="#c8dffc"/>
<rect x="1502.00" y="1111.69" width="116.40" height="23.49" fill="#90bffa"/>
<rect x="1617.40" y="1111.69" width="116.40" height="23.49" fill="#accffb"/>
<rect x="1732.80" y="1111.69" width="116.40" height="23.49" fill="#c8dffc"/>
<rect x="1848.20" y="1111.69" width="116.40" height="23.49" fill="#90bffa"/>
<rect x="1963.60" y="1111.69" width="115.40" height="23.49" fill="#90bffa"/>
<rect x="809.60" y="1134.19" width="116.40" height="23.49" fill="#fe9f9d"/>
<rect x="925.00" y="1134.19" width="116.40" height="23.49" fill="#accffb"/>
<rect x="1040.40" y="1134.19" width="116.40" height="23.49" fill="#c8dffc"/>
<rect x="1155.80" y="1134.19" width="116.40" height="23.49" fill="#90bffa"/>
<rect x="1271.20" y="1134.19" width="116.40" height="23.49" fill="#90bffa"/>
<rect x="1386.60" y="1134.19" width="116.40" height="23.49" fill="#accffb"/>
<rect x="1502.00" y="1134.19" width="116.40" height="23.49" fill="#90bffa"/>
<rect x="1617.40" y="1134.19" width="116.40" height="23.49" fill="#90bffa"/>
<rect x="1732.80" y="1134.19" width="116.40" height="23.49" fill="#e3effe"/>
<rect x="1848.20" y="1134.19" width="116.40" height="23.49" fill="#90bffa"/>
<rect x="1963.60" y="1134.19" width="115.40" height="23.49" fill="#90bffa"/>
<rect x="809.60" y="1156.68" width="116.40" height="23.49" fill="#ffffff"/>
<rect x="925.00" y="1156.68" width="116.40" height="23.49" fill="#90bffa"/>
<rect x="1040.40" y="1156.68" width="116.40" height="23.49" fill="#accffb"/>
<rect x="1155.80" y="1156.68" width="116.40" height="23.49" fill="#accffb"/>
<rect x="1271.20" y="1156.68" width="116.40" height="23.49" fill="#c8dffc"/>
<rect x="1386.60" y="1156.68" width="116.40" height="23.49" fill="#accffb"/>
<rect x="1502.00" y="1156.68" width="116.40" height="23.49" fill="#90bffa"/>
<rect x="1617.40" y="1156.68" width="116.40" height="23.49" fill="#accffb"/>
<rect x="1732.80" y="1156.68" width="116.40" height="23.49" fill="#e3effe"/>
<rect x="1848.20" y="1156.68" width="116.40" height="23.49" fill="#90bffa"/>
<rect x="1963.60" y="1156.68" width="115.40" height="23.49" fill="#90bffa"/>
<rect x="809.60" y="1179.17" width="116.40" height="23.49" fill="#e3effe"/>
<rect x="925.00" y="1179.17" width="116.40" height="23.49" fill="#ffffff"/>
<rect x="1040.40" y="1179.17" width="116.40" height="23.49" fill="#90bffa"/>
<rect x="1155.80" y="1179.17" width="116.40" height="23.49" fill="#accffb"/>
<rect x="1271.20" y="1179.17" width="116.40" height="23.49" fill="#c8dffc"/>
<rect x="1386.60" y="1179.17" width="116.40" height="23.49" fill="#accffb"/>
<rect x="1502.00" y="1179.17" width="116.40" height="23.49" fill="#90bffa"/>
<rect x="1617.40" y="1179.17" width="116.40" height="23.49" fill="#90bffa"/>
<rect x="1732.80" y="1179.17" width="116.40" height="23.49" fill="#e3effe"/>
<rect x="1848.20" y="1179.17" width="116.40" height="23.49" fill="#90bffa"/>
<rect x="1963.60" y="1179.17" width="115.40" height="23.49" fill="#90bffa"/>
<rect x="809.60" y="1201.67" width="116.40" height="23.49" fill="#ffe7e6"/>
<rect x="925.00" y="1201.67" width="116.40" height="23.49" fill="#fe9f9d"/>
<rect x="1040.40" y="1201.67" width="116.40" height="23.49" fill="#90bffa"/>
<rect x="1155.80" y="1201.67" width="116.40" height="23.49" fill="#90bffa"/>
<rect x="1271.20" y="1201.67" width="116.40" height="23.49" fill="#accffb"/>
<rect x="1386.60" y="1201.67" width="116.40" height="23.49" fill="#accffb"/>
<rect x="1502.00" y="1201.67" width="116.40" height="23.49" fill="#90bffa"/>
<rect x="1617.40" y="1201.67" width="116.40" height="23.49" fill="#90bffa"/>
<rect x="1732.80" y="1201.67" width="116.40" height="23.49" fill="#c8dffc"/>
<rect x="1848.20" y="1201.67" width="116.40" height="23.49" fill="#90bffa"/>
<rect x="1963.60" y="1201.67" width="115.40" height="23.49" fill="#90bffa"/>
<rect x="809.60" y="1224.16" width="116.40" height="23.49" fill="#accffb"/>
<rect x="925.00" y="1224.16" width="116.40" height="23.49" fill="#c8dffc"/>
<rect x="1040.40" y="1224.16" width="116.40" height="23.49" fill="#90bffa"/>
<rect x="1155.80" y="1224.16" width="116.40" height="23.49" fill="#90bffa"/>
<rect x="1271.20" y="1224.16" width="116.40" height="23.49" fill="#accffb"/>
<rect x="1386.60" y="1224.16" width="116.40" height="23.49" fill="#90bffa"/>
<rect x="1502.00" y="1224.16" width="116.40" height="23.49" fill="#c8dffc"/>
<rect x="1617.40" y="1224.16" width="116.40" height="23.49" fill="#90bffa"/>
<rect x="1732.80" y="1224.16" width="116.40" height="23.49" fill="#accffb"/>
<rect x="1848.20" y="1224.16" width="116.40" height="23.49" fill="#90bffa"/>
<rect x="1963.60" y="1224.16" width="115.40" height="23.49" fill="#90bffa"/>
<rect x="809.60" y="1246.65" width="116.40" height="23.49" fill="#accffb"/>
<rect x="925.00" y="1246.65" width="116.40" height="23.49" fill="#90bffa"/>
<rect x="1040.40" y="1246.65" width="116.40" height="23.49" fill="#90bffa"/>
<rect x="1155.80" y="1246.65" width="116.40" height="23.49" fill="#90bffa"/>
<rect x="1271.20" y="1246.65" width="116.40" height="23.49" fill="#accffb"/>
<rect x="1386.60" y="1246.65" width="116.40" height="23.49" fill="#90bffa"/>
<rect x="1502.00" y="1246.65" width="116.40" height="23.49" fill="#90bffa"/>
<rect x="1617.40" y="1246.65" width="116.40" height="23.49" fill="#90bffa"/>
<rect x="1732.80" y="1246.65" width="116.40" height="23.49" fill="#c8dffc"/>
<rect x="1848.20" y="1246.65" width="116.40" height="23.49" fill="#90bffa"/>
<rect x="1963.60" y="1246.65" width="115.40" height="23.49" fill="#accffb"/>
<rect x="809.60" y="1269.14" width="116.40" height="23.49" fill="#90bffa"/>
<rect x="925.00" y="1269.14" width="116.40" height="23.49" fill="#c8dffc"/>
<rect x="1040.40" y="1269.14" width="116.40" height="23.49" fill="#90bffa"/>
<rect x="1155.80" y="1269.14" width="116.40" height="23.49" fill="#90bffa"/>
<rect x="1271.20" y="1269.14" width="116.40" height="23.49" fill="#e3effe"/>
<rect x="1386.60" y="1269.14" width="116.40" height="23.49" fill="#accffb"/>
<rect x="1502.00" y="1269.14" width="116.40" height="23.49" fill="#accffb"/>
<rect x="1617.40" y="1269.14" width="116.40" height="23.49" fill="#90bffa"/>
<rect x="1732.80" y="1269.14" width="116.40" height="23.49" fill="#90bffa"/>
<rect x="1848.20" y="1269.14" width="116.40" height="23.49" fill="#90bffa"/>
<rect x="1963.60" y="1269.14" width="115.40" height="23.49" fill="#90bffa"/>
<rect x="809.60" y="1291.64" width="116.40" height="23.49" fill="#accffb"/>
<rect x="925.00" y="1291.64" width="116.40" height="23.49" fill="#90bffa"/>
<rect x="1040.40" y="1291.64" width="116.40" height="23.49" fill="#90bffa"/>
<rect x="1155.80" y="1291.64" width="116.40" height="23.49" fill="#c8dffc"/>
<rect x="1271.20" y="1291.64" width="116.40" height="23.49" fill="#90bffa"/>
<rect x="1386.60" y="1291.64" width="116.40" height="23.49" fill="#accffb"/>
<rect x="1502.00" y="1291.64" width="116.40" height="23.49" fill="#90bffa"/>
<rect x="1617.40" y="1291.64" width="116.40" height="23.49" fill="#90bffa"/>
<rect x="1732.80" y="1291.64" width="116.40" height="23.49" fill="#90bffa"/>
<rect x="1848.20" y="1291.64" width="116.40" height="23.49" fill="#90bffa"/>
<rect x="1963.60" y="1291.64" width="115.40" height="23.49" fill="#90bffa"/>
<rect x="809.60" y="1314.13" width="116.40" height="23.49" fill="#ffe7e6"/>
<rect x="925.00" y="1314.13" width="116.40" height="23.49" fill="#ffffff"/>
<rect x="1040.40" y="1314.13" width="116.40" height="23.49" fill="#90bffa"/>
<rect x="1155.80" y="1314.13" width="116.40" height="23.49" fill="#90bffa"/>
<rect x="1271.20" y="1314.13" width="116.40" height="23.49" fill="#accffb"/>
<rect x="1386.60" y="1314.13" width="116.40" height="23.49" fill="#c8dffc"/>
<rect x="1502.00" y="1314.13" width="116.40" height="23.49" fill="#90bffa"/>
<rect x="1617.40" y="1314.13" width="116.40" height="23.49" fill="#90bffa"/>
<rect x="1732.80" y="1314.13" width="116.40" height="23.49" fill="#c8dffc"/>
<rect x="1848.20" y="1314.13" width="116.40" height="23.49" fill="#90bffa"/>
<rect x="1963.60" y="1314.13" width="115.40" height="23.49" fill="#90bffa"/>
<rect x="809.60" y="1336.62" width="116.40" height="23.49" fill="#c8dffc"/>
<rect x="925.00" y="1336.62" width="116.40" height="23.49" fill="#90bffa"/>
<rect x="1040.40" y="1336.62" width="116.40" height="23.49" fill="#90bffa"/>
<rect x="1155.80" y="1336.62" width="116.40" height="23.49" fill="#accffb"/>
<rect x="1271.20" y="1336.62" width="116.40" height="23.49" fill="#90bffa"/>
<rect x="1386.60" y="1336.62" width="116.40" height="23.49" fill="#90bffa"/>
<rect x="1502.00" y="1336.62" width="116.40" height="23.49" fill="#accffb"/>
<rect x="1617.40" y="1336.62" width="116.40" height="23.49" fill="#accffb"/>
<rect x="1732.80" y="1336.62" width="116.40" height="23.49" fill="#c8dffc"/>
<rect x="1848.20" y="1336.62" width="116.40" height="23.49" fill="#90bffa"/>
<rect x="1963.60" y="1336.62" width="115.40" height="23.49" fill="#90bffa"/>
<rect x="809.60" y="1359.11" width="116.40" height="23.49" fill="#90bffa"/>
<rect x="925.00" y="1359.11" width="116.40" height="23.49" fill="#90bffa"/>
<rect x="1040.40" y="1359.11" width="116.40" height="23.49" fill="#90bffa"/>
<rect x="1155.80" y="1359.11" width="116.40" height="23.49" fill="#90bffa"/>
<rect x="1271.20" y="1359.11" width="116.40" height="23.49" fill="#90bffa"/>
<rect x="1386.60" y="1359.11" width="116.40" height="23.49" fill="#accffb"/>
<rect x="1502.00" y="1359.11" width="116.40" height="23.49" fill="#90bffa"/>
<rect x="1617.40" y="1359.11" width="116.40" height="23.49" fill="#accffb"/>
<rect x="1732.80" y="1359.11" width="116.40" height="23.49" fill="#accffb"/>
<rect x="1848.20" y="1359.11" width="116.40" height="23.49" fill="#90bffa"/>
<rect x="1963.60" y="1359.11" width="115.40" height="23.49" fill="#90bffa"/>
<rect x="809.60" y="1381.61" width="116.40" height="22.49" fill="#ffe7e6"/>
<rect x="925.00" y="1381.61" width="116.40" height="22.49" fill="#ffffff"/>
<rect x="1040.40" y="1381.61" width="116.40" height="22.49" fill="#90bffa"/>
<rect x="1155.80" y="1381.61" width="116.40" height="22.49" fill="#90bffa"/>
<rect x="1271.20" y="1381.61" width="116.40" height="22.49" fill="#90bffa"/>
<rect x="1386.60" y="1381.61" width="116.40" height="22.49" fill="#accffb"/>
<rect x="1502.00" y="1381.61" width="116.40" height="22.49" fill="#c8dffc"/>
<rect x="1617.40" y="1381.61" width="116.40" height="22.49" fill="#90bffa"/>
<rect x="1732.80" y="1381.61" width="116.40" height="22.49" fill="#90bffa"/>
<rect x="1848.20" y="1381.61" width="116.40" height="22.49" fill="#90bffa"/>
<rect x="1963.60" y="1381.61" width="115.40" height="22.49" fill="#90bffa"/>
</g>
<rect class="ln" x="809.60" y="167.00" width="1269.40" height="1237.10" stroke-width="2.9"/>
<g class="ln" stroke-width="2.8">
<line x1="787.60" y1="178.25" x2="809.60" y2="178.25"/>
<line x1="787.60" y1="245.72" x2="809.60" y2="245.72"/>
<line x1="787.60" y1="313.20" x2="809.60" y2="313.20"/>
<line x1="787.60" y1="380.68" x2="809.60" y2="380.68"/>
<line x1="787.60" y1="448.16" x2="809.60" y2="448.16"/>
<line x1="787.60" y1="515.64" x2="809.60" y2="515.64"/>
<line x1="787.60" y1="583.12" x2="809.60" y2="583.12"/>
<line x1="787.60" y1="650.59" x2="809.60" y2="650.59"/>
<line x1="787.60" y1="718.07" x2="809.60" y2="718.07"/>
<line x1="787.60" y1="785.55" x2="809.60" y2="785.55"/>
<line x1="787.60" y1="853.03" x2="809.60" y2="853.03"/>
<line x1="787.60" y1="920.51" x2="809.60" y2="920.51"/>
<line x1="787.60" y1="987.98" x2="809.60" y2="987.98"/>
<line x1="787.60" y1="1055.46" x2="809.60" y2="1055.46"/>
<line x1="787.60" y1="1122.94" x2="809.60" y2="1122.94"/>
<line x1="787.60" y1="1190.42" x2="809.60" y2="1190.42"/>
<line x1="787.60" y1="1257.90" x2="809.60" y2="1257.90"/>
<line x1="787.60" y1="1325.38" x2="809.60" y2="1325.38"/>
<line x1="787.60" y1="1392.85" x2="809.60" y2="1392.85"/>
<line x1="867.30" y1="1404.10" x2="867.30" y2="1426.10"/>
<line x1="982.70" y1="1404.10" x2="982.70" y2="1426.10"/>
<line x1="1098.10" y1="1404.10" x2="1098.10" y2="1426.10"/>
<line x1="1213.50" y1="1404.10" x2="1213.50" y2="1426.10"/>
<line x1="1328.90" y1="1404.10" x2="1328.90" y2="1426.10"/>
<line x1="1444.30" y1="1404.10" x2="1444.30" y2="1426.10"/>
<line x1="1559.70" y1="1404.10" x2="1559.70" y2="1426.10"/>
<line x1="1675.10" y1="1404.10" x2="1675.10" y2="1426.10"/>
<line x1="1790.50" y1="1404.10" x2="1790.50" y2="1426.10"/>
<line x1="1905.90" y1="1404.10" x2="1905.90" y2="1426.10"/>
<line x1="2021.30" y1="1404.10" x2="2021.30" y2="1426.10"/>
</g>
<text class="rl" transform="translate(781 192.35) scale(1 1.02)">GmFLA1</text>
<text class="rl" transform="translate(781 259.82) scale(1 1.02)">GmFLA4</text>
<text class="rl" transform="translate(781 327.30) scale(1 1.02)">GmFLA7</text>
<text class="rl" transform="translate(781 394.78) scale(1 1.02)">GmFLA10</text>
<text class="rl" transform="translate(781 462.26) scale(1 1.02)">GmFLA13</text>
<text class="rl" transform="translate(781 529.74) scale(1 1.02)">GmFLA16</text>
<text class="rl" transform="translate(781 597.22) scale(1 1.02)">GmFLA19</text>
<text class="rl" transform="translate(781 664.69) scale(1 1.02)">GmFLA22</text>
<text class="rl" transform="translate(781 732.17) scale(1 1.02)">GmFLA25</text>
<text class="rl" transform="translate(781 799.65) scale(1 1.02)">GmFLA28</text>
<text class="rl" transform="translate(781 867.13) scale(1 1.02)">GmFLA31</text>
<text class="rl" transform="translate(781 934.61) scale(1 1.02)">GmFLA34</text>
<text class="rl" transform="translate(781 1002.08) scale(1 1.02)">GmFLA37</text>
<text class="rl" transform="translate(781 1069.56) scale(1 1.02)">GmFLA40</text>
<text class="rl" transform="translate(781 1137.04) scale(1 1.02)">GmFLA43</text>
<text class="rl" transform="translate(781 1204.52) scale(1 1.02)">GmFLA46</text>
<text class="rl" transform="translate(781 1272.00) scale(1 1.02)">GmFLA49</text>
<text class="rl" transform="translate(781 1339.48) scale(1 1.02)">GmFLA52</text>
<text class="rl" transform="translate(781 1406.95) scale(1 1.02)">GmFLA55</text>
<text class="cl" transform="translate(874.30 1467.60) rotate(-45) scale(1 1.0)">cis-acting element involved in abscisic acid responsiveness</text>
<text class="cl" transform="translate(989.70 1467.60) rotate(-45) scale(1 1.0)">cis-acting regulatory element involved in MeJA-responsiveness</text>
<text class="cl" transform="translate(1105.10 1467.60) rotate(-45) scale(1 1.0)">cis-acting regulatory element involved in auxin responsiveness</text>
<text class="cl" transform="translate(1220.50 1467.60) rotate(-45) scale(1 1.0)">cis-acting element involved in salicylic acid responsiveness</text>
<text class="cl" transform="translate(1335.90 1467.60) rotate(-45) scale(1 1.0)">cis-acting element involved in gibberellin-responsiveness</text>
<text class="cl" transform="translate(1451.30 1467.60) rotate(-45) scale(1 1.0)">MYB binding site involved in drought-inducibility</text>
<text class="cl" transform="translate(1566.70 1467.60) rotate(-45) scale(1 1.0)">cis-acting element involved in low-temperature responsiveness</text>
<text class="cl" transform="translate(1682.10 1467.60) rotate(-45) scale(1 1.0)">cis-acting element involved in defense and stress responsiveness</text>
<text class="cl" transform="translate(1797.50 1467.60) rotate(-45) scale(1 1.0)">Light responsive element</text>
<text class="cl" transform="translate(1912.90 1467.60) rotate(-45) scale(1 1.0)">cis-acting element involved in phytochrome down-regulation expression</text>
<text class="cl" transform="translate(2028.30 1467.60) rotate(-45) scale(1 1.0)">cis-acting regulatory element involved in circadian control</text>
<text class="gl" transform="translate(1097.7 121.9) scale(1 1.045)">Hormone Response</text>
<text class="gl" transform="translate(1517.2 72.8) scale(1 1.045)">Abiotic Stress</text>
<text class="gl" transform="translate(1518.0 123.0) scale(1 1.045)">Response</text>
<text class="gl" transform="translate(1913.2 71.5) scale(1 1.045)">Light and Circadian</text>
<text class="gl" transform="translate(1919.9 122.6) scale(1 1.045)">Control</text>
<g class="ln" stroke-width="2.8">
<line x1="807.8" y1="144.5" x2="1342.8" y2="144.5"/>
<line x1="1392.2" y1="144.5" x2="1707.5" y2="144.5"/>
<line x1="1750.6" y1="144.5" x2="2067.5" y2="144.5"/>
</g>
<rect x="2105.0" y="177.8" width="41.40" height="423.40" fill="url(#cb)"/>
<rect class="ln" x="2105.0" y="177.8" width="41.40" height="423.40" stroke-width="2.8"/>
<g class="ln" stroke-width="2.6">
<line x1="2105.0" y1="283.65" x2="2115.00" y2="283.65"/>
<line x1="2136.40" y1="283.65" x2="2146.4" y2="283.65"/>
<line x1="2105.0" y1="389.50" x2="2115.00" y2="389.50"/>
<line x1="2136.40" y1="389.50" x2="2146.4" y2="389.50"/>
<line x1="2105.0" y1="495.35" x2="2115.00" y2="495.35"/>
<line x1="2136.40" y1="495.35" x2="2146.4" y2="495.35"/>
</g>
<text class="bl" transform="translate(2170.3 192.30) scale(1 1.02)">8</text>
<text class="bl" transform="translate(2170.3 298.15) scale(1 1.02)">6</text>
<text class="bl" transform="translate(2170.3 404.00) scale(1 1.02)">4</text>
<text class="bl" transform="translate(2170.3 509.85) scale(1 1.02)">2</text>
<text class="bl" transform="translate(2170.3 615.70) scale(1 1.02)">0</text>
</svg>
</body></html>
